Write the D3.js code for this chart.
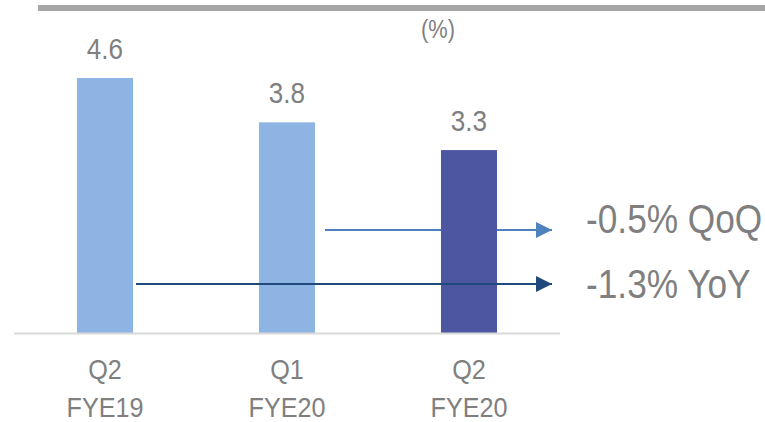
<!DOCTYPE html>
<html><head><meta charset="utf-8">
<script src="https://cdn.jsdelivr.net/npm/d3@7"></script>
<style>
html,body{margin:0;padding:0;background:#fff;}
text{font-family:"Liberation Sans",Arial,sans-serif;fill:#7f7f7f;}
</style></head>
<body><svg id="c" width="765" height="422"></svg>
<script>
const categories = [["Q2","FYE19"],["Q1","FYE20"],["Q2","FYE20"]];
const values = [4.6, 3.8, 3.3];
const valueLabels = ["4.6","3.8","3.3"];
const unitLabel = "(%)";
const changeLabels = ["-0.5% QoQ", "-1.3% YoY"];
const changeFrom = [1, 0];

const barColors = ["#8db4e3","#8db4e3","#4d56a0"];
const arrowColors = ["#4f81bd","#1f497d"];
const arrowY = [230, 284];
const labelY = [233, 298];

const svg = d3.select("#c");
const x = d3.scaleBand().domain(d3.range(categories.length)).range([14,560]).paddingInner(0.692).paddingOuter(0.346);
const y = d3.scaleLinear().domain([0,4.6]).range([333,78]);

// condensed text: placed via a transform that squeezes it horizontally
function ctext(px, py, str, size, k, anchor){
  return svg.append("text").attr("transform",`translate(${px},${py}) scale(${k},1)`)
    .attr("text-anchor",anchor||"middle").attr("font-size",size).text(str);
}

// top rule
svg.append("rect").attr("x",38).attr("y",5).attr("width",727).attr("height",6).attr("fill","#a6a6a6");
ctext(438, 38, unitLabel, 26, 0.84);

svg.append("defs").selectAll("marker").data(arrowColors).join("marker")
  .attr("id",(d,i)=>"ah"+i).attr("viewBox","0 0 16 16").attr("refX",16).attr("refY",8)
  .attr("markerWidth",16).attr("markerHeight",16).attr("markerUnits","userSpaceOnUse").attr("orient","auto")
  .append("path").attr("d","M0,0L16,8L0,16Z").attr("fill",d=>d);

function arrow(i){
  const f = changeFrom[i];
  svg.append("line").attr("x1",x(f)+x.bandwidth()+(i===0?10:3)).attr("x2",552)
    .attr("y1",arrowY[i]).attr("y2",arrowY[i]).attr("stroke",arrowColors[i]).attr("stroke-width",2)
    .attr("marker-end","url(#ah"+i+")");
}
arrow(0);

svg.selectAll("rect.bar").data(values).join("rect").attr("class","bar")
  .attr("x",(d,i)=>x(i)).attr("width",x.bandwidth()).attr("y",d=>y(d)).attr("height",d=>y(0)-y(d))
  .attr("fill",(d,i)=>barColors[i]);

arrow(1);

svg.append("line").attr("x1",14).attr("x2",560).attr("y1",333.5).attr("y2",333.5).attr("stroke","#d9d9d9").attr("stroke-width",2);

values.forEach((v,i)=>ctext(x(i)+x.bandwidth()/2, y(v)-19, valueLabels[i], 29, 0.9));

categories.forEach((lines,i)=>{
  lines.forEach((s,j)=>ctext(x(i)+x.bandwidth()/2, 379+j*38, s, 28, 0.9));
});

changeLabels.forEach((s,i)=>ctext(586, labelY[i], s, 41, 0.86, "start"));
</script></body></html>
